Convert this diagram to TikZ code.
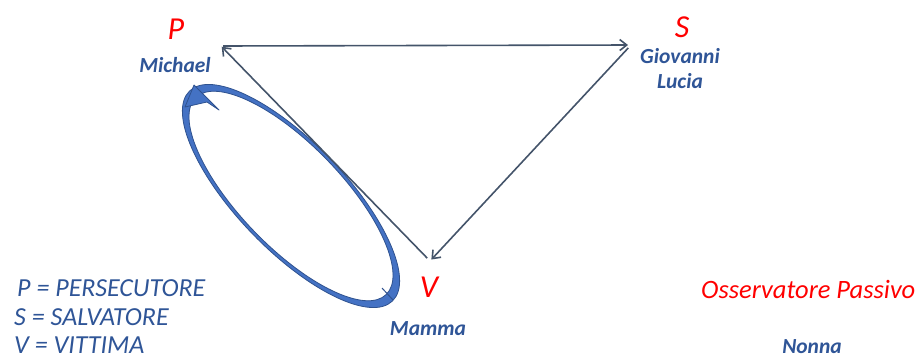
\documentclass[tikz,border=0pt]{standalone}
\usepackage{fontspec}
\setmainfont{Carlito}
\usetikzlibrary{arrows.meta,positioning}
\definecolor{rolered}{HTML}{FF0000}
\definecolor{nameblue}{HTML}{2F5597}
\definecolor{linegray}{HTML}{44546A}
\definecolor{ringblue}{HTML}{4472C4}
\definecolor{ringedge}{HTML}{2F528F}
\tikzset{
  letter/.style={text=rolered,font=\fontsize{32}{36}\selectfont\itshape,inner sep=0pt,anchor=base},
  person/.style={text=nameblue,font=\fontsize{21.5}{25}\selectfont\bfseries\itshape,inner sep=0pt,anchor=base},
  legendtext/.style={text=nameblue,font=\fontsize{26}{30}\selectfont\itshape,inner sep=0pt,anchor=base west},
  link/.style={draw=linegray,line width=1.6pt,-{Straight Barb[length=7pt,width=11pt]}},
  ring/.style={fill=ringblue,draw=ringedge,line width=0.8pt,even odd rule}
}
\begin{document}
\begin{tikzpicture}[x=1pt,y=-1pt]
\useasboundingbox (0,0) rectangle (917,359);
% ciclo del dramma
\begin{scope}[shift={(291,196)},rotate=-46]
\path[ring] (0,0) ellipse [x radius=146pt,y radius=54pt] (0,0) ellipse [x radius=137pt,y radius=51pt];
\end{scope}
\fill[ringblue,draw=ringedge,line width=0.8pt,line join=round] (194,85) -- (219,110) -- (207,102) -- (185,107) -- cycle;
\draw[ringedge,line width=1pt] (382,288) -- (393,300);
% ruoli
\node[letter] (P) at (176,39) {P};
\node[person] (michael) at (175,72) {Michael};
\node[letter] (S) at (682,37) {S};
\node[person] (giovanni) at (680,63) {Giovanni};
\node[person] (lucia) at (680,88) {Lucia};
\node[letter] (V) at (429,297) {V};
\node[person] (mamma) at (428,335) {Mamma};
\node[letter,font=\fontsize{26.5}{30}\selectfont\itshape,anchor=base west] (obs) at (701,298) {Osservatore Passivo};
\node[person] (nonna) at (812,353) {Nonna};
% legenda
\node[legendtext] (lp) at (17,296) {P = PERSECUTORE};
\node[legendtext] (ls) at (14,325) {S = SALVATORE};
\node[legendtext] (lv) at (14,353) {V = VITTIMA};
% triangolo
\coordinate (pc) at (221,46);
\coordinate (sc) at (631,45);
\coordinate (vc) at (430,261);
\draw[link,shorten <=2pt,shorten >=3pt] (pc) -- (sc);
\draw[link,shorten <=4pt,shorten >=2pt] (sc) -- (vc);
\draw[link,shorten <=4pt,shorten >=1pt] (vc) -- (pc);
\end{tikzpicture}
\end{document}
